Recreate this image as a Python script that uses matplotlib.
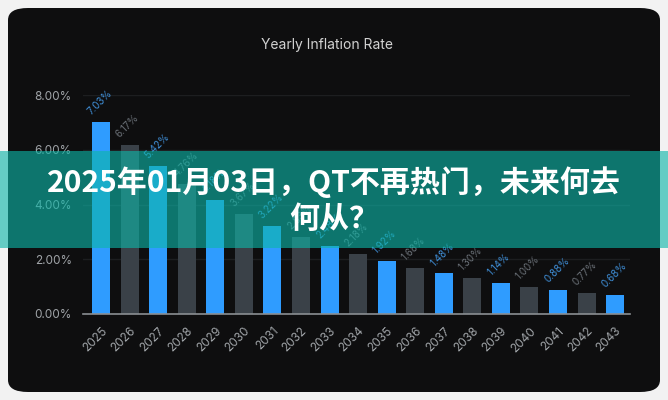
import matplotlib
matplotlib.use("Agg")
import matplotlib.pyplot as plt
from matplotlib.patches import FancyBboxPatch, Rectangle

# data
years = [str(y) for y in range(2025, 2044)]
rates = [7.03, 6.17, 5.42, 4.76, 4.18, 3.67, 3.22, 2.83, 2.48, 2.18,
         1.92, 1.68, 1.48, 1.30, 1.14, 1.00, 0.88, 0.77, 0.68]
yticks = [0, 2, 4, 6, 8]
title = "Yearly Inflation Rate"
banner_lines = ["2025年01月03日，QT不再热门，未来何去", "何从？"]

blue = "#2f9cff"
grey = "#3a4148"
blue_txt = "#3f8fd8"
grey_txt = "#6a7077"
bar_colors = [blue if i % 2 == 0 else grey for i in range(len(years))]
txt_colors = [blue_txt if i % 2 == 0 else grey_txt for i in range(len(years))]

plt.rcParams["font.family"] = ["Inter", "DejaVu Sans"]

W, H = 668, 400
fig = plt.figure(figsize=(W / 100, H / 100), dpi=100)
fig.patch.set_facecolor("#f2f2f2")

# dark rounded card
card = FancyBboxPatch((8 / W, 8 / H), 652 / W, 384 / H,
                      boxstyle="round,pad=0,rounding_size=0.03",
                      transform=fig.transFigure, facecolor="#0e0e0f",
                      edgecolor="none", zorder=-5)
fig.patches.append(card)

ax = fig.add_axes([83 / W, 1 - 314 / H, (630 - 83) / W, (314 - 95) / H])
ax.set_zorder(1)
ax.set_facecolor("none")
x = list(range(len(years)))
ax.bar(x, rates, width=0.63, color=bar_colors, zorder=2)
ax.set_xlim(-0.63, 18.52)
ax.set_ylim(0, 8)

for i, v in enumerate(rates):
    ax.annotate(f"{v:.2f}%", (i, v), xytext=(-6, 4), textcoords="offset points",
                rotation=45, rotation_mode="anchor", ha="left", va="bottom",
                fontsize=7, color=txt_colors[i], annotation_clip=False, zorder=3)

ax.set_yticks(yticks)
ax.set_yticklabels([f"{t:.2f}%" for t in yticks])
ax.set_xticks(x)
ax.set_xticklabels(years, rotation=45, ha="right", rotation_mode="anchor")
ax.tick_params(axis="both", length=0, colors="#a0a4a8", labelsize=8.5)
ax.tick_params(axis="x", pad=8)
ax.tick_params(axis="y", pad=8)
for s in ["top", "right", "left"]:
    ax.spines[s].set_visible(False)
ax.spines["bottom"].set_color("#8a8e92")
ax.spines["bottom"].set_linewidth(1.2)
ax.grid(axis="y", color="#1d1e20", linewidth=1, zorder=0)
ax.set_axisbelow(True)

fig.text(327 / W, 1 - 45 / H, title, ha="center", va="center",
         fontsize=10, color="#d2d2d2")

# teal banner on top
banner = Rectangle((0, 1 - 248 / H), 1, 97 / H, transform=fig.transFigure,
                   facecolor="#0db6a8", alpha=0.62, edgecolor="none", zorder=10)
fig.patches.append(banner)
fam = ["Noto Sans CJK SC", "DejaVu Sans"]
fig.text(334 / W, 1 - 182 / H, banner_lines[0], ha="center", va="center",
         fontsize=21.6, fontweight=900, color="white", family=fam, zorder=11)
fig.text(334 / W, 1 - 219 / H, banner_lines[1], ha="center", va="center",
         fontsize=21.6, fontweight=900, color="white", family=fam, zorder=11)

fig.savefig("out.png", dpi=100, facecolor=fig.get_facecolor())
